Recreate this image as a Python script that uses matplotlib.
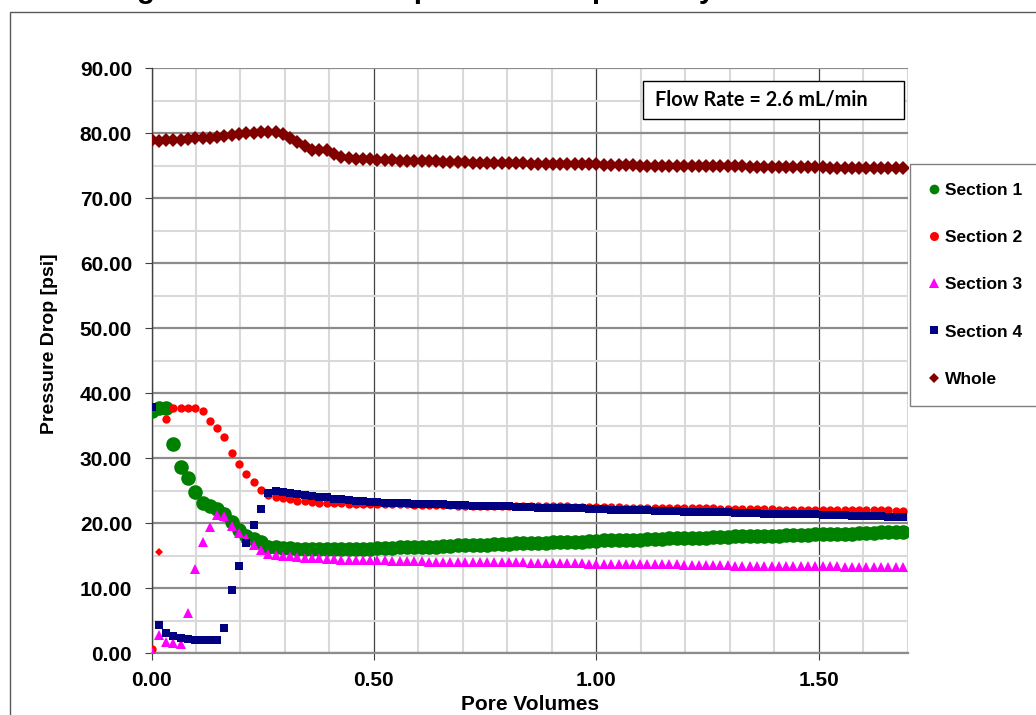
import numpy as np
import matplotlib
matplotlib.use("Agg")
import matplotlib.pyplot as plt
from matplotlib.lines import Line2D
from matplotlib.patches import Rectangle
from matplotlib.ticker import MultipleLocator, FormatStrFormatter

# ---------------------------------------------------------------------------
# Data: pressure drop [psi] vs. injected pore volumes
# ---------------------------------------------------------------------------
pore_volumes = [
    0.000, 0.016, 0.033, 0.049, 0.066, 0.082, 0.098, 0.115, 0.131, 0.148,
    0.164, 0.180, 0.197, 0.213, 0.230, 0.246, 0.262, 0.279, 0.295, 0.312,
    0.328, 0.344, 0.361, 0.377, 0.394, 0.410, 0.426, 0.443, 0.459, 0.476,
    0.492, 0.508, 0.525, 0.541, 0.558, 0.574, 0.590, 0.607, 0.623, 0.640,
    0.656, 0.672, 0.689, 0.705, 0.722, 0.738, 0.754, 0.771, 0.787, 0.804,
    0.820, 0.836, 0.853, 0.869, 0.886, 0.902, 0.918, 0.935, 0.951, 0.968,
    0.984, 1.000, 1.017, 1.033, 1.050, 1.066, 1.082, 1.099, 1.115, 1.132,
    1.148, 1.164, 1.181, 1.197, 1.214, 1.230, 1.246, 1.263, 1.279, 1.296,
    1.312, 1.328, 1.345, 1.361, 1.378, 1.394, 1.410, 1.427, 1.443, 1.460,
    1.476, 1.492, 1.509, 1.525, 1.542, 1.558, 1.574, 1.591, 1.607, 1.624,
    1.640, 1.656, 1.673, 1.689,
]

section_1 = [
    37.2, 37.8, 37.8, 32.2, 28.6, 26.9, 24.8, 23.2, 22.6, 22.2,
    21.5, 20.2, 19.0, 18.1, 17.6, 17.1, 16.4, 16.3, 16.2, 16.2,
    16.1, 16.1, 16.0, 16.0, 16.0, 16.0, 16.0, 16.0, 16.1, 16.1,
    16.1, 16.2, 16.2, 16.2, 16.3, 16.3, 16.3, 16.4, 16.4, 16.4,
    16.5, 16.5, 16.6, 16.6, 16.6, 16.7, 16.7, 16.8, 16.8, 16.8,
    16.9, 16.9, 17.0, 17.0, 17.0, 17.1, 17.1, 17.2, 17.2, 17.2,
    17.3, 17.3, 17.4, 17.4, 17.4, 17.5, 17.5, 17.5, 17.6, 17.6,
    17.6, 17.7, 17.7, 17.7, 17.8, 17.8, 17.8, 17.9, 17.9, 17.9,
    18.0, 18.0, 18.0, 18.0, 18.1, 18.1, 18.1, 18.2, 18.2, 18.2,
    18.2, 18.3, 18.3, 18.3, 18.4, 18.4, 18.4, 18.5, 18.5, 18.5,
    18.6, 18.6, 18.6, 18.7,
]

section_2 = [
    0.7, 15.6, 36.0, 37.8, 37.8, 37.8, 37.7, 37.2, 35.8, 34.6,
    33.2, 30.8, 29.1, 27.6, 26.3, 25.2, 24.4, 24.1, 23.9, 23.7,
    23.5, 23.4, 23.3, 23.2, 23.2, 23.1, 23.1, 23.0, 23.0, 23.0,
    23.0, 22.9, 22.9, 22.9, 22.9, 22.9, 22.8, 22.8, 22.8, 22.8,
    22.8, 22.8, 22.7, 22.7, 22.7, 22.7, 22.7, 22.7, 22.7, 22.7,
    22.6, 22.6, 22.6, 22.6, 22.6, 22.6, 22.6, 22.6, 22.5, 22.5,
    22.5, 22.5, 22.5, 22.5, 22.5, 22.4, 22.4, 22.4, 22.4, 22.4,
    22.4, 22.3, 22.3, 22.3, 22.3, 22.3, 22.3, 22.3, 22.2, 22.2,
    22.2, 22.2, 22.2, 22.2, 22.2, 22.2, 22.1, 22.1, 22.1, 22.1,
    22.1, 22.1, 22.1, 22.1, 22.0, 22.0, 22.0, 22.0, 22.0, 22.0,
    22.0, 22.0, 21.9, 21.9,
]
# point of Section 2 that is shown with a diamond marker
section_2_diamond = [1]

section_3 = [
    0.2, 2.8, 1.7, 1.6, 1.5, 6.2, 12.9, 17.2, 19.4, 21.3,
    21.2, 19.6, 18.5, 17.8, 16.7, 15.9, 15.3, 15.1, 15.0, 14.9,
    14.8, 14.7, 14.6, 14.6, 14.5, 14.5, 14.4, 14.4, 14.4, 14.3,
    14.3, 14.3, 14.3, 14.2, 14.2, 14.2, 14.2, 14.2, 14.1, 14.1,
    14.1, 14.1, 14.1, 14.1, 14.0, 14.0, 14.0, 14.0, 14.0, 14.0,
    14.0, 14.0, 13.9, 13.9, 13.9, 13.9, 13.9, 13.9, 13.9, 13.9,
    13.8, 13.8, 13.8, 13.8, 13.8, 13.8, 13.8, 13.7, 13.7, 13.7,
    13.7, 13.7, 13.7, 13.6, 13.6, 13.6, 13.6, 13.6, 13.6, 13.6,
    13.5, 13.5, 13.5, 13.5, 13.5, 13.5, 13.5, 13.4, 13.4, 13.4,
    13.4, 13.4, 13.4, 13.4, 13.4, 13.3, 13.3, 13.3, 13.3, 13.3,
    13.3, 13.3, 13.3, 13.3,
]

section_4 = [
    37.9, 4.4, 3.2, 2.7, 2.4, 2.2, 2.1, 2.0, 2.0, 2.0,
    3.9, 9.7, 13.5, 16.9, 19.8, 22.2, 24.6, 24.9, 24.8, 24.7,
    24.5, 24.4, 24.2, 24.1, 24.0, 23.8, 23.7, 23.6, 23.5, 23.4,
    23.3, 23.3, 23.2, 23.2, 23.1, 23.1, 23.0, 23.0, 22.9, 22.9,
    22.9, 22.8, 22.8, 22.8, 22.7, 22.7, 22.7, 22.6, 22.6, 22.6,
    22.5, 22.5, 22.5, 22.4, 22.4, 22.4, 22.4, 22.3, 22.3, 22.3,
    22.2, 22.2, 22.2, 22.1, 22.1, 22.1, 22.0, 22.0, 22.0, 21.9,
    21.9, 21.9, 21.9, 21.8, 21.8, 21.8, 21.7, 21.7, 21.7, 21.7,
    21.6, 21.6, 21.6, 21.6, 21.5, 21.5, 21.5, 21.5, 21.4, 21.4,
    21.4, 21.4, 21.3, 21.3, 21.3, 21.3, 21.2, 21.2, 21.2, 21.1,
    21.1, 21.0, 21.0, 20.9,
]

whole = [
    78.9, 78.8, 78.9, 78.9, 79.0, 79.1, 79.2, 79.2, 79.2, 79.4,
    79.6, 79.8, 79.9, 80.0, 80.1, 80.2, 80.2, 80.2, 79.9, 79.2,
    78.7, 78.0, 77.5, 77.4, 77.4, 76.8, 76.4, 76.2, 76.1, 76.0,
    76.0, 75.9, 75.9, 75.9, 75.8, 75.8, 75.8, 75.7, 75.7, 75.7,
    75.6, 75.6, 75.6, 75.6, 75.5, 75.5, 75.5, 75.5, 75.4, 75.4,
    75.4, 75.4, 75.3, 75.3, 75.3, 75.3, 75.3, 75.2, 75.2, 75.2,
    75.2, 75.2, 75.1, 75.1, 75.1, 75.1, 75.1, 75.0, 75.0, 75.0,
    75.0, 75.0, 75.0, 74.9, 74.9, 74.9, 74.9, 74.9, 74.9, 74.9,
    74.9, 74.9, 74.8, 74.8, 74.8, 74.8, 74.8, 74.8, 74.8, 74.8,
    74.8, 74.8, 74.8, 74.7, 74.7, 74.7, 74.7, 74.7, 74.7, 74.7,
    74.7, 74.7, 74.7, 74.7,
]

x_ticks = [0.0, 0.5, 1.0, 1.5]
series_names = ["Section 1", "Section 2", "Section 3", "Section 4", "Whole"]
title_text = "Figure 10: Calculated pressure drop history for each section"
flow_text = "Flow Rate = 2.6 mL/min"

# ---------------------------------------------------------------------------
# Styling
# ---------------------------------------------------------------------------
plt.rcParams["font.family"] = ["Liberation Sans", "DejaVu Sans"]
plt.rcParams["font.weight"] = "bold"

C1, C2, C3, C4, CW = "#008000", "#ff0000", "#ff00ff", "#000080", "#800000"

W, H = 1036, 715
fig = plt.figure(figsize=(W / 100, H / 100), dpi=100)
fig.patch.set_facecolor("white")

# chart area border (runs off the right / bottom edges)
fig.patches.append(Rectangle((10 / W, -0.5), 2.0, 0.5 + (1 - 12 / H),
                             transform=fig.transFigure, fill=False,
                             edgecolor="#595959", linewidth=1.0))

# chart title, mostly above the top edge of the image
fig.text(529 / W, 1 + 1.5 / H, title_text, ha="center", va="baseline",
         fontsize=21, fontweight="bold", color="black")

left, right = 151.5 / W, 907.7 / W
bottom, top = 1 - 653.3 / H, 1 - 68.3 / H
ax = fig.add_axes([left, bottom, right - left, top - bottom])

x = np.array(pore_volumes)

ax.plot(x, section_1, linestyle="none", marker="o", markersize=10.5,
        color=C1, markeredgewidth=0, zorder=3)

s2 = np.array(section_2)
mask = np.ones(len(s2), dtype=bool)
mask[section_2_diamond] = False
ax.plot(x[mask], s2[mask], linestyle="none", marker="o", markersize=6,
        color=C2, markeredgewidth=0, zorder=4)
ax.plot(x[~mask], s2[~mask], linestyle="none", marker="D", markersize=4.5,
        color=C2, markeredgewidth=0, zorder=4)

ax.plot(x, section_3, linestyle="none", marker="^", markersize=7,
        color=C3, markeredgewidth=0, zorder=5)
ax.plot(x, section_4, linestyle="none", marker="s", markersize=6,
        color=C4, markeredgewidth=0, zorder=6)
ax.plot(x, whole, linestyle="none", marker="D", markersize=7.5,
        color=CW, markeredgewidth=0, zorder=7)

ax.set_xlim(0, 1.7)
ax.set_ylim(0, 90)
ax.set_xticks(x_ticks)
ax.xaxis.set_minor_locator(MultipleLocator(0.1))
ax.yaxis.set_major_locator(MultipleLocator(10))
ax.yaxis.set_minor_locator(MultipleLocator(5))
ax.xaxis.set_major_formatter(FormatStrFormatter("%.2f"))
ax.yaxis.set_major_formatter(FormatStrFormatter("%.2f"))

ax.set_axisbelow(True)
ax.grid(which="minor", axis="x", color="#d9d9d9", linewidth=1.5)
ax.grid(which="major", axis="x", color="#404040", linewidth=0.9)
ax.grid(which="minor", axis="y", color="#d9d9d9", linewidth=1.5)
ax.grid(which="major", axis="y", color="#8c8c8c", linewidth=1.6)

for side in ("top", "right"):
    ax.spines[side].set_visible(False)
ax.spines["left"].set_color("#404040")
ax.spines["left"].set_linewidth(1.0)
ax.spines["bottom"].set_color("#8c8c8c")
ax.spines["bottom"].set_linewidth(1.6)

ax.tick_params(which="minor", length=0)
ax.tick_params(axis="y", which="major", direction="out", length=5,
               color="#404040", pad=9, labelsize=15)
ax.tick_params(axis="x", which="major", direction="out", length=5,
               color="#404040", pad=8, labelsize=15)
for lab in ax.get_xticklabels() + ax.get_yticklabels():
    lab.set_fontweight("bold")

ax.set_xlabel("Pore Volumes", fontsize=15, fontweight="bold", labelpad=3)
ax.set_ylabel("Pressure Drop [psi]", fontsize=14, fontweight="bold")
ax.yaxis.set_label_coords(-0.124, 0.53)

# flow rate annotation box
fig.patches.append(Rectangle((643 / W, 1 - 119 / H), (904 - 643) / W,
                             (119 - 81) / H, transform=fig.transFigure,
                             facecolor="white", edgecolor="black",
                             linewidth=1.0, zorder=10))
fig.text(655 / W, 1 - 100 / H, flow_text, ha="left", va="center",
         fontsize=14.3, fontweight="bold", family=["Lato", "DejaVu Sans"],
         zorder=11)

# legend
handles = [
    Line2D([], [], linestyle="none", marker="o", markersize=7, color=C1,
           markeredgewidth=0),
    Line2D([], [], linestyle="none", marker="o", markersize=6.5, color=C2,
           markeredgewidth=0),
    Line2D([], [], linestyle="none", marker="^", markersize=6.5, color=C3,
           markeredgewidth=0),
    Line2D([], [], linestyle="none", marker="s", markersize=5.5, color=C4,
           markeredgewidth=0),
    Line2D([], [], linestyle="none", marker="D", markersize=5, color=CW,
           markeredgewidth=0),
]
leg = fig.legend(handles, series_names, loc="upper left",
                 bbox_to_anchor=(910 / W, 1 - 164 / H),
                 bbox_transform=fig.transFigure, borderaxespad=0,
                 frameon=True, fancybox=False, framealpha=1,
                 edgecolor="#808080", borderpad=1.1, labelspacing=1.84,
                 handlelength=0.6, handletextpad=0.3,
                 prop={"size": 12.5, "weight": "bold"})
leg.get_frame().set_linewidth(1.0)

fig.savefig("out.png", dpi=100)
